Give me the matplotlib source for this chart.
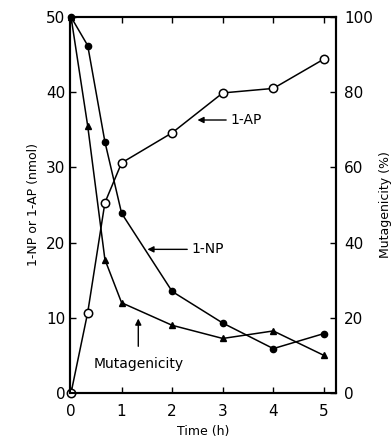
import matplotlib
matplotlib.use("Agg")
import matplotlib.pyplot as plt

time = [0, 0.33, 0.67, 1, 2, 3, 4, 5]
np_nmol = [50, 46.2, 33.4, 23.9, 13.5, 9.3, 5.9, 7.9]
ap_nmol = [0, 10.7, 25.3, 30.6, 34.6, 39.9, 40.5, 44.4]
mutagenicity = [100, 71, 35.5, 24, 18, 14.5, 16.5, 10]
x_ticks = [0, 1, 2, 3, 4, 5]
left_ticks = [0, 10, 20, 30, 40, 50]
right_ticks = [0, 20, 40, 60, 80, 100]

fig = plt.figure(figsize=(3.92, 4.48), dpi=100)
ax = fig.add_axes([0.1786, 0.1228, 0.6786, 0.8393])
ax2 = ax.twinx()

ax.plot(time, np_nmol, color='black', lw=1.1, marker='o', ms=4.5,
        mfc='black', mec='black', clip_on=False, zorder=3)
ax.plot(time, ap_nmol, color='black', lw=1.1, marker='o', ms=6,
        mfc='white', mec='black', mew=1.1, clip_on=False, zorder=4)
ax2.plot(time, mutagenicity, color='black', lw=1.1, marker='^', ms=4.5,
         mfc='black', mec='black', clip_on=False, zorder=3)

ax.set_xlim(-0.02, 5.24)
ax.set_ylim(0, 50)
ax2.set_ylim(0, 100)
ax.set_xticks(x_ticks)
ax.set_yticks(left_ticks)
ax2.set_yticks(right_ticks)
ax.set_xticklabels(['0', '1', '2', '3', '4', '5'])

for a in (ax, ax2):
    for s in a.spines.values():
        s.set_linewidth(1.5)
ax.tick_params(axis='both', direction='in', length=4, width=1, labelsize=11, top=True)
ax.tick_params(axis='x', pad=8)
ax2.tick_params(axis='y', direction='in', length=4, width=1, labelsize=11, pad=6)

ax.set_xlabel('Time (h)', fontsize=9)
ax.set_ylabel('1-NP or 1-AP (nmol)', fontsize=9, labelpad=4)
ax2.set_ylabel('Mutagenicity (%)', fontsize=9, labelpad=4)

arrow = dict(arrowstyle='-|>', color='black', lw=1, mutation_scale=9,
             shrinkA=1, shrinkB=0)
ax.annotate('1-AP', xy=(2.5, 36.3), xytext=(3.15, 36.3), fontsize=10,
            va='center', ha='left', arrowprops=arrow)
ax.annotate('1-NP', xy=(1.51, 19.1), xytext=(2.38, 19.1), fontsize=10,
            va='center', ha='left', arrowprops=arrow)
ax.annotate('Mutagenicity', xy=(1.33, 9.9), xytext=(1.33, 3.8), fontsize=10,
            va='center', ha='center',
            arrowprops=dict(arrowstyle='-|>', color='black', lw=1,
                            mutation_scale=9, shrinkA=6, shrinkB=0))

fig.savefig('out.png', dpi=100)
